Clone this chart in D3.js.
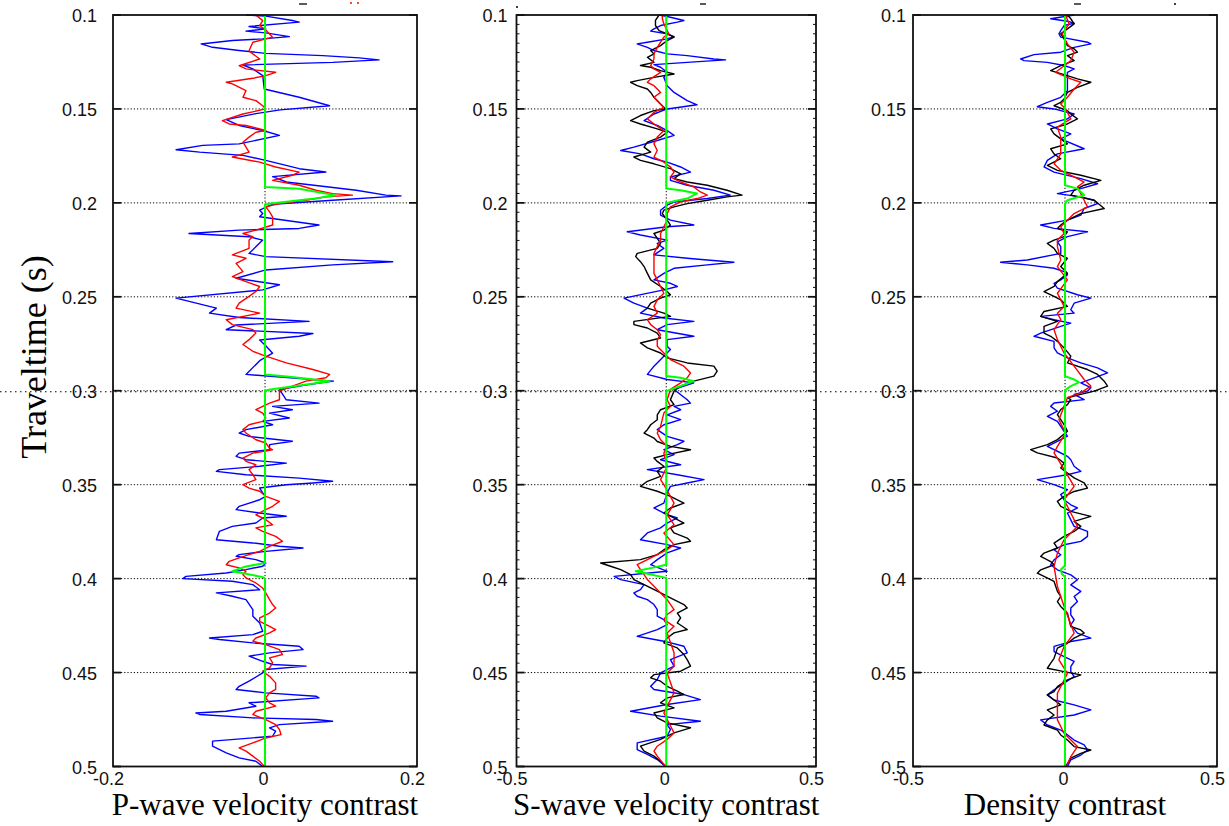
<!DOCTYPE html>
<html>
<head>
<meta charset="utf-8">
<script src="https://cdn.jsdelivr.net/npm/d3@7"></script>
<style>
  body { margin: 0; background: #fff; }
  svg { display: block; }
</style>
</head>
<body>
<svg id="chart" width="1229" height="826"></svg>
<script>
// traveltime ticks (s) and contrast ticks
const yTicks = [0.1, 0.15, 0.2, 0.25, 0.3, 0.35, 0.4, 0.45, 0.5];
const pTicks = [-0.2, 0, 0.2];
const sTicks = [-0.5, 0, 0.5];
const dTicks = [-0.5, 0, 0.5];

// traces: [time in ms, contrast]
const pBlue = [[100,-0.025],[100.6,0.001],[102.9,0.036],[103.8,0.045],[106.1,-0.021],[107.4,0.001],[108.6,-0.025],[109.5,0.001],[111.5,0.032],[112.7,-0.003],[113.6,-0.043],[115.4,-0.084],[117.2,-0.069],[118.9,-0.034],[120.4,0.001],[121.6,0.076],[122.8,0.124],[123.9,0.15],[125.2,0.089],[126.6,-0.029],[128.7,-0.016],[132.3,-0.003],[139.4,-0.001],[143.8,0.045],[148.3,0.085],[150.5,0.02],[152.5,-0.012],[155.7,-0.051],[158.8,-0.034],[161.5,-0.003],[164.1,0.019],[168.6,-0.034],[169.4,-0.082],[171.7,-0.117],[173,-0.086],[174.7,-0.029],[177.4,0.001],[181.8,0.045],[183.6,0.08],[186,0.01],[188.9,0.028],[193.3,0.12],[195.9,0.159],[196.3,0.179],[198.6,0.089],[200.7,0.01],[203.9,-0.007],[205.7,-0.003],[207.4,-0.007],[211.8,0.071],[213.6,0.045],[214.5,-0.034],[216.3,-0.1],[218,-0.021],[219.8,-0.003],[226.9,-0.021],[228.6,0.001],[231.3,0.168],[233,0.089],[235.7,0.001],[240.1,-0.038],[243.6,0.019],[246.3,-0.003],[250.7,-0.117],[256,-0.064],[258.7,-0.073],[261,-0.034],[263.1,0.058],[265,-0.038],[267.5,-0.051],[269.5,0.063],[271,0.045],[273,-0.007],[276,0.001],[280,0.01],[284,-0.007],[291.3,-0.025],[294.9,0.09],[297,0.053],[299.3,0.019],[304.8,0.028],[306.6,0.071],[308.3,0.01],[310.1,0.036],[311.9,0.006],[314.5,0.032],[316.3,-0.003],[318.1,0.01],[320.7,-0.025],[322.5,-0.034],[324.3,-0.021],[326.9,0.036],[328.7,0.006],[331.4,0.006],[333.2,-0.034],[334.9,-0.038],[336.7,-0.025],[338.5,0.028],[340.2,-0.007],[342,-0.06],[342.9,-0.064],[344.7,-0.025],[346.5,0.045],[348.2,0.089],[349.1,0.063],[350,0.028],[351.8,-0.007],[354.4,-0.003],[356.2,0.001],[358,-0.007],[361.5,-0.034],[363.3,-0.038],[365.1,-0.007],[366.8,0.028],[367.7,-0.003],[370.4,-0.012],[372.2,-0.043],[374.8,-0.06],[379.3,-0.064],[381,-0.016],[382.8,0.019],[383.7,0.05],[385.5,0.001],[387.2,-0.034],[388.1,-0.038],[389.9,-0.012],[391.7,0.001],[393.4,-0.003],[395.2,-0.025],[397,-0.051],[398.8,-0.104],[400,-0.108],[401.4,-0.043],[403.2,-0.016],[405.9,-0.007],[407.6,-0.064],[409.4,-0.043],[411.2,-0.025],[416.5,-0.016],[420,-0.016],[423.6,-0.007],[428,-0.003],[429.8,-0.016],[431.6,-0.073],[432.4,-0.06],[434.2,-0.016],[436,0.045],[437.8,0.05],[439.5,0.006],[441.3,-0.021],[444,-0.003],[445.7,0.01],[446.6,0.054],[448.4,0.001],[450.2,-0.003],[454.6,-0.021],[457.3,-0.034],[459,-0.038],[460.8,0.001],[462.6,0.067],[463.5,0.071],[466.1,-0.021],[467.9,-0.012],[470.6,-0.051],[471.5,-0.091],[472.3,-0.086],[474.1,-0.016],[475,0.067],[475.9,0.089],[477.7,0.019],[479.4,0.006],[481.2,0.014],[483.9,0.01],[486.5,-0.069],[489.2,-0.069],[492.7,-0.051],[495.4,-0.034],[497.2,-0.012],[500,-0.003]];
const pRed = [[100,-0.012],[103,-0.003],[105.6,-0.007],[108,0.001],[111.8,0.01],[114.5,-0.016],[119,-0.021],[120.7,-0.016],[123.4,-0.007],[127,-0.034],[128.7,-0.025],[130.5,0.014],[132.3,0.001],[133.7,-0.016],[135.8,-0.051],[136.7,-0.043],[140.3,-0.025],[143.8,-0.029],[145.6,-0.012],[148.3,-0.003],[150,0.001],[152.7,-0.029],[156.2,-0.056],[158,-0.047],[158.8,-0.025],[161.5,0.001],[162.4,-0.012],[165,-0.021],[167.7,-0.029],[170.3,-0.025],[173,-0.021],[175.6,-0.043],[178.3,-0.007],[180.9,0.014],[183.6,0.045],[185.3,0.036],[188,0.01],[190.6,0.045],[193.3,0.067],[195.1,0.089],[195.9,0.115],[196.8,0.08],[198.6,0.054],[200.4,0.019],[202.1,0.001],[204.8,0.006],[207.4,0.01],[211.8,0.01],[214.5,-0.012],[216.3,-0.029],[218,-0.016],[219.8,-0.021],[224.2,-0.021],[227.7,-0.043],[229.5,-0.025],[232.2,-0.038],[236.6,-0.029],[239.2,-0.043],[241.9,-0.025],[244.5,-0.007],[247.2,-0.012],[249.8,-0.021],[253.4,-0.034],[256,-0.038],[258.7,-0.007],[262.2,-0.051],[264.8,-0.043],[267.5,-0.016],[269.3,-0.012],[272.8,-0.021],[275.4,-0.029],[279,-0.016],[281.6,0.001],[285.2,0.028],[288.7,0.063],[291.3,0.085],[293.1,0.08],[294.9,0.054],[297.5,0.036],[300.2,0.019],[304.8,0.019],[306.6,0.006],[308.3,-0.003],[310.1,-0.012],[311.9,-0.003],[314.5,0.001],[316.3,-0.003],[318.1,-0.021],[320.7,-0.029],[322.5,-0.025],[326.1,-0.012],[327.8,0.001],[330.5,0.006],[331.4,0.01],[333.2,-0.016],[335.8,-0.029],[337.6,-0.025],[339.4,-0.012],[342,-0.021],[344.7,-0.016],[347.3,-0.012],[350,-0.029],[351.8,-0.021],[353.5,-0.007],[356.2,0.001],[358.9,0.019],[361.5,0.01],[363.3,0.001],[366,-0.012],[368.6,0.001],[371.3,0.01],[373,-0.012],[374.8,-0.003],[377.5,0.014],[380.1,0.023],[382.8,0.006],[385.5,-0.007],[387.2,-0.021],[389,-0.034],[390.8,-0.047],[392.6,-0.051],[394.3,-0.034],[396.1,-0.025],[397.9,-0.029],[399.6,-0.025],[402.3,-0.012],[405,-0.003],[407.6,0.001],[411.2,0.006],[413.8,0.01],[415.6,0.014],[418.3,0.006],[420.9,-0.007],[422.7,-0.007],[425.4,0.006],[427.1,0.014],[428.9,0.006],[431.6,-0.012],[433.3,-0.016],[435.1,0.001],[437.8,0.019],[440.4,0.023],[442.2,0.006],[444.9,0.01],[447.5,0.006],[449.3,-0.003],[452,0.006],[455.5,0.014],[459,0.014],[460.8,0.006],[463.5,0.001],[466.1,0.006],[467.9,0.014],[470.6,-0.012],[472.3,-0.016],[475,0.001],[477.7,0.014],[480.3,0.019],[483,0.021],[484.8,0.001],[487.4,-0.016],[490.1,-0.034],[491.8,-0.025],[494.5,-0.016],[497.2,-0.007],[500,-0.001]];
const pGreen = [[100,0],[191.5,0],[192.5,0.045],[196,0.093],[198,0.06],[200.5,0.005],[201,0],[291.3,0],[292.5,0.032],[294.9,0.085],[297.2,0.045],[299.5,0.005],[300,0],[391.7,0],[393.5,-0.025],[396.1,-0.043],[397.4,-0.025],[399.2,-0.003],[400,0],[500,0]];

const sBlue = [[100,-0.024],[100.8,0.003],[102.9,0.059],[103.8,0.037],[105.6,-0.019],[107.4,-0.041],[108.6,-0.052],[110,0.003],[111.5,0.026],[112.7,0.003],[114.5,-0.063],[115.4,-0.097],[117.2,-0.063],[118.9,-0.041],[120.7,0.003],[121.6,0.07],[123.4,0.159],[123.9,0.198],[125.2,0.07],[126.4,-0.041],[127.8,-0.019],[130.5,0.003],[133.2,-0.008],[137.6,0.003],[141.2,0.026],[145.6,0.07],[147.8,0.103],[150,0.003],[152.7,-0.041],[156.2,-0.074],[158.8,-0.03],[161.5,0.003],[164.1,0.026],[166.8,-0.03],[170.3,-0.108],[172.1,-0.152],[173.9,-0.086],[176.5,-0.041],[178.3,0.003],[180.9,0.048],[183.6,0.081],[186.2,0.014],[188,0.014],[190.6,0.07],[193.3,0.159],[195.9,0.214],[197.7,0.137],[199.5,0.026],[201.2,0.003],[203.9,-0.019],[206.5,-0.019],[209.2,0.014],[211.8,0.092],[212.7,0.003],[215.4,-0.13],[217.1,-0.086],[219.8,0.003],[221.6,-0.03],[224.2,-0.008],[227.7,-0.041],[229.5,0.07],[230.4,0.137],[231.6,0.226],[233,0.137],[234.8,0.026],[237.5,-0.008],[241,-0.041],[242.8,0.014],[244.5,0.037],[246.3,-0.008],[250.7,-0.141],[253.4,-0.108],[256,-0.063],[258.7,-0.086],[261.3,-0.008],[263.1,0.092],[264.8,0.003],[267.5,-0.03],[271,0.092],[272.8,0.003],[276.3,0.003],[278.1,0.014],[281.6,-0.008],[286.9,-0.041],[291.3,-0.063],[294,0.003],[295.8,0.092],[299.3,0.026],[304.8,0.07],[306.6,0.081],[308.3,0.026],[310.1,0.048],[312.8,0.003],[315.4,0.048],[318.1,-0.008],[320.7,-0.03],[324.3,0.003],[326.9,0.059],[328.7,0.037],[331.4,-0.008],[334,0.026],[336.7,-0.019],[339.4,0.048],[342,-0.063],[344.7,0.037],[347.3,0.126],[349.1,0.07],[350.9,0.014],[354.4,0.003],[359.8,-0.008],[362.4,-0.041],[364.2,-0.019],[366,0.003],[367.7,0.037],[370.4,0.003],[373,-0.019],[375.7,-0.063],[379.3,-0.086],[381.9,0.003],[383.7,0.048],[386.3,0.003],[389.9,-0.03],[392.6,-0.052],[396.1,0.003],[398.8,-0.174],[400.5,-0.152],[403.2,-0.074],[405.9,-0.086],[407.6,-0.108],[409.4,-0.097],[411.2,-0.063],[413.8,-0.041],[416.5,-0.03],[420,-0.03],[421.8,-0.008],[424.5,0.003],[427.1,-0.03],[430.7,-0.097],[433.3,-0.008],[436,0.059],[439.5,0.07],[443.1,0.014],[446.6,0.026],[450.2,-0.019],[453.7,-0.03],[457.3,-0.052],[459,-0.041],[461.7,0.059],[464.4,0.114],[467,0.003],[470.6,-0.119],[473.2,-0.019],[475.9,0.114],[477.7,0.003],[480.3,0.014],[483.9,0.003],[487.4,-0.097],[491,-0.097],[493.6,-0.063],[496.3,-0.03],[500,-0.002]];
const sRed = [[100,-0.013],[102,-0.013],[104.7,-0.008],[108.3,0.003],[110,0.009],[111.8,-0.008],[114.5,-0.019],[117.2,-0.03],[120.7,-0.041],[123.4,-0.041],[126.9,-0.052],[128.7,-0.041],[130.5,-0.019],[134,-0.052],[135.8,-0.063],[137.6,-0.041],[139.4,-0.03],[141.2,-0.019],[143.8,-0.041],[145.6,-0.03],[149.2,-0.008],[151.8,-0.041],[155.3,-0.063],[158,-0.041],[161.5,-0.008],[165,-0.03],[168.6,-0.041],[172.1,-0.03],[175.6,-0.041],[178.3,-0.008],[180.9,0.014],[183.6,0.026],[186.2,0.014],[188.9,0.048],[191.5,0.092],[194.2,0.114],[195.9,0.137],[197.7,0.103],[199.5,0.048],[202.1,0.014],[205.7,0.003],[209.2,0.003],[212.7,-0.008],[216.3,-0.019],[219.8,-0.019],[223.3,-0.03],[226.9,-0.041],[233.9,-0.041],[237.5,-0.041],[241,-0.03],[244.5,-0.019],[248.1,-0.008],[251.6,-0.03],[255.1,-0.041],[258.7,-0.03],[262.2,-0.063],[264.8,-0.052],[267.5,-0.03],[270.1,-0.019],[272.8,-0.03],[276.3,-0.03],[279.9,-0.008],[283.4,0.014],[286.9,0.059],[290.5,0.081],[293.1,0.07],[295.8,0.048],[299.3,0.014],[304.8,0.003],[308.3,0.014],[311.9,-0.008],[319,-0.019],[322.5,-0.03],[326.1,-0.019],[329.6,0.003],[333.2,-0.008],[340.2,0.003],[343.8,-0.008],[347.3,-0.019],[350,-0.008],[356.2,0.014],[359.8,0.026],[363.3,0.014],[366,0.003],[371.3,0.026],[375.7,-0.008],[381.9,0.026],[384.6,0.003],[387.2,-0.03],[389.9,-0.063],[392.6,-0.097],[395.2,-0.086],[397.9,-0.074],[400.5,-0.063],[404.1,-0.041],[407.6,-0.019],[411.2,0.003],[416.5,0.026],[419.1,0.003],[421.8,-0.008],[425.4,0.026],[428.9,0.003],[439.5,0.026],[446.6,0.026],[450.2,0.003],[460.8,0.026],[467.9,0.003],[471.5,-0.008],[482.1,0.026],[485.6,0.003],[489.2,-0.03],[491.8,-0.041],[494.5,-0.03],[500,-0.002]];
const sBlack = [[100,-0.024],[102.9,-0.036],[105.6,-0.036],[108.3,-0.024],[110,0.003],[111.8,0.026],[113.6,0.003],[116.3,-0.019],[118.9,-0.052],[120.7,-0.041],[122.5,-0.063],[125.2,-0.041],[126.9,-0.086],[127.8,-0.052],[129.6,-0.019],[131.4,0.026],[133.2,-0.041],[134.9,-0.097],[135.8,-0.119],[137.6,-0.097],[139.4,-0.063],[141.2,-0.052],[143.8,-0.041],[147.4,-0.019],[150,-0.002],[150.9,-0.041],[153.5,-0.086],[156.2,-0.119],[158,-0.086],[160.6,-0.03],[162.4,0.003],[165,-0.019],[167.7,-0.063],[170.3,-0.074],[173,-0.052],[175.6,-0.108],[177.4,-0.086],[179.2,-0.041],[181.8,0.014],[184.5,0.048],[187.1,0.026],[188.9,0.07],[190.6,0.137],[193.3,0.203],[195.9,0.253],[196.8,0.203],[198.6,0.137],[200.4,0.07],[202.1,0.026],[203.9,-0.008],[205.7,-0.013],[209.2,0.003],[211.8,0.014],[214.5,-0.008],[216.3,-0.041],[218.9,-0.03],[221.6,-0.019],[224.2,-0.03],[226.9,-0.097],[228.6,-0.102],[231.3,-0.086],[233.9,-0.074],[237.5,-0.063],[241,-0.052],[244.5,-0.019],[247.2,0.003],[248.9,0.014],[250.7,-0.019],[253.4,-0.052],[256,-0.063],[258.7,-0.008],[260.4,0.014],[263.1,-0.108],[264.8,-0.108],[266.6,-0.063],[269.3,-0.03],[271.9,-0.019],[274.6,-0.086],[277.2,-0.063],[279.9,-0.019],[282.5,0.003],[285.2,0.07],[286.9,0.159],[289.6,0.17],[292.2,0.159],[294.9,0.092],[297.5,0.048],[300.2,0.026],[304.8,0.014],[307.4,0.026],[310.1,-0.019],[312.8,-0.03],[315.4,-0.03],[318.1,-0.052],[320.7,-0.063],[322.5,-0.074],[325.2,-0.041],[327,-0.03],[329.6,0.014],[331.4,0.081],[334,0.003],[335.8,-0.041],[337.6,-0.03],[340.2,-0.008],[342.9,-0.03],[345.6,-0.019],[348.2,-0.063],[350.9,-0.086],[353.5,-0.03],[356.2,0.014],[359.8,0.059],[362.4,0.014],[365.1,-0.008],[367.7,0.026],[370.4,0.059],[373,0.014],[375.7,0.026],[378.4,0.07],[380.1,0.081],[381.9,0.026],[384.6,-0.008],[387.2,-0.03],[389.9,-0.086],[391.7,-0.219],[393.4,-0.186],[395.2,-0.152],[397.9,-0.119],[400.5,-0.108],[403.2,-0.074],[406.7,-0.03],[410.3,0.014],[413.8,0.059],[415.6,0.07],[418.3,0.037],[420.9,0.048],[423.6,0.037],[427.1,0.07],[428.9,0.026],[431.6,0.003],[434.2,-0.008],[436.9,0.037],[440.4,0.059],[443.1,0.07],[446.6,0.081],[449.3,0.048],[451.1,-0.041],[452.8,-0.052],[454.6,-0.019],[457.3,0.003],[459.9,0.037],[461.7,0.059],[463.5,0.003],[466.1,-0.019],[468.8,0.026],[471.5,-0.041],[474.1,-0.03],[476.8,0.003],[479.4,0.081],[482.1,0.026],[485.6,-0.019],[489.2,-0.086],[491.8,-0.074],[494.5,-0.041],[497.2,-0.019],[500,-0.002]];
const sGreen = [[100,0],[192.4,0],[193.3,0.048],[195,0.103],[197.7,0.07],[199.5,0.014],[200.4,0],[292.2,0],[293.1,0.048],[294.9,0.092],[297.5,0.048],[300.2,0],[392.6,0],[394,-0.04],[396.1,-0.102],[397.4,-0.063],[399.6,0],[500,0]];

const dBlue = [[100,0.03],[102,-0.047],[103.3,0.008],[104.4,0.03],[105.6,-0.003],[108.3,-0.014],[110,-0.02],[111.8,-0.014],[114.5,0.074],[115.4,0.085],[117.2,0.03],[119.8,-0.014],[121.1,-0.102],[123.4,-0.146],[124.3,-0.135],[125.2,-0.058],[126.9,-0.003],[128.7,0.03],[130.5,0.008],[134.9,0.008],[140.3,0.008],[143.8,-0.014],[146.5,-0.058],[148.8,-0.091],[150,-0.036],[152.7,0.03],[155.3,0.008],[158,-0.058],[160.6,-0.025],[163.3,0.019],[165.9,-0.014],[171.2,0.063],[173.9,-0.025],[177.4,-0.058],[180.9,-0.069],[183.6,-0.036],[187.1,0.052],[189.8,0.107],[192.4,0.052],[195.1,-0.025],[196.8,0.052],[198.6,0.096],[200.4,0.107],[203,0.063],[206.5,0.052],[209.2,0.008],[211.8,-0.08],[213.6,-0.036],[215.4,0.074],[218,0.008],[220.7,-0.025],[223.3,-0.014],[226.9,-0.014],[230.4,-0.124],[231.6,-0.212],[233,-0.124],[234.8,-0.036],[236.6,-0.003],[238.3,0.008],[241,-0.014],[242.8,-0.036],[245.4,-0.025],[248.9,0.041],[250.7,0.085],[253.4,0.03],[256.9,0.019],[258.7,0.03],[260.4,-0.08],[262.2,-0.036],[264,0.019],[265.7,-0.014],[269.3,-0.08],[271,-0.102],[273.7,-0.036],[277.2,-0.036],[279.9,-0.025],[282.5,0.008],[285.2,0.052],[287.8,0.107],[290.5,0.14],[293.1,0.096],[295.8,0.052],[298.4,0.085],[300.2,0.074],[301.9,0.03],[304.7,0.063],[306.5,-0.036],[308.3,-0.047],[310.9,-0.025],[313.6,-0.058],[316.3,-0.025],[318.9,-0.014],[321.6,-0.003],[324.2,0.008],[326.9,-0.025],[329.6,-0.058],[332.2,-0.025],[334.9,0.008],[336.7,0.019],[340.2,0.03],[342.9,0.052],[344.7,0.008],[347.3,-0.091],[350,-0.036],[352.7,0.008],[355.3,-0.014],[358,-0.003],[360.7,0.019],[362.4,0.041],[365.1,0.008],[368.7,0.019],[372.2,0.03],[374.9,0.074],[377.5,0.074],[380.2,0.052],[382,-0.003],[384.6,-0.036],[387.3,-0.014],[390,-0.036],[392.6,-0.047],[395.3,-0.025],[398,0.019],[400.6,0.041],[403.3,0.019],[406.8,0.052],[409.5,0.03],[412.2,0.041],[415.7,0.019],[419.3,0.019],[421.9,0.03],[424.6,0.019],[429,0.041],[431.7,0.085],[433.5,0.019],[436.1,-0.036],[438.8,-0.036],[441.5,-0.003],[444.1,0.03],[446.8,0.019],[449.5,0.019],[452.1,0.03],[455.7,-0.003],[459.2,-0.036],[461.9,-0.058],[464.6,-0.036],[467.2,0.03],[469.9,0.085],[472.6,0.03],[475.2,-0.08],[477.9,-0.058],[480.6,-0.014],[483.2,0.008],[485.9,0.03],[488.5,0.063],[491.2,0.074],[493.9,0.052],[496.5,0.019],[500,0.008]];
const dRed = [[100,0.002],[104.7,0.013],[110,-0.009],[115.4,0.008],[119.8,0.03],[124.3,0.019],[127.8,-0.009],[130.5,-0.031],[134,0.019],[135.8,0.052],[139.4,0.03],[143.8,0.008],[147.4,-0.014],[150,0.002],[155.3,0.019],[159.7,-0.025],[165,-0.014],[173.9,-0.014],[179.2,-0.036],[182.7,-0.014],[186.2,0.03],[188.9,0.063],[191.5,0.041],[195.1,0.052],[198.6,0.063],[202.1,0.074],[205.7,0.03],[209.2,0.008],[212.7,-0.014],[216.3,-0.003],[219.8,-0.025],[223.3,-0.025],[230.4,-0.014],[233.9,-0.025],[241,0.008],[248.1,-0.025],[255.1,-0.003],[258.7,-0.025],[262.2,-0.014],[267.5,-0.036],[272.8,-0.025],[279.9,-0.003],[286.9,0.03],[294,0.063],[297.5,0.085],[301.1,0.052],[303.7,0.008],[308.3,-0.003],[315.4,-0.02],[322.5,0.002],[329.6,-0.025],[333.1,-0.036],[340.2,-0.009],[350.9,0.03],[358,-0.003],[365.1,0.019],[372.2,0.041],[379.3,-0.003],[386.4,-0.025],[393.5,-0.036],[404.2,-0.025],[414.8,-0.003],[429,0.03],[436.1,-0.003],[443.2,-0.02],[450.4,0.008],[461,-0.025],[475.2,-0.025],[482.3,-0.003],[489.4,0.041],[494.7,0.019],[500,0.005]];
const dBlack = [[100,0.008],[102,0.019],[104.7,0.03],[107.4,0.008],[110,-0.014],[112.7,-0.003],[116.3,0.008],[118,0.03],[119.8,0.041],[121.6,0.008],[124.3,0.03],[126.9,-0.014],[129.6,-0.047],[131.7,-0.003],[134,0.041],[135.8,0.085],[138.5,0.041],[141.2,0.008],[144.7,-0.003],[146.5,-0.014],[148.3,-0.036],[150.9,0.008],[152.7,0.019],[155.3,0.041],[158,0.008],[160.6,-0.047],[163.3,-0.036],[165.9,-0.014],[168.6,0.008],[171.2,-0.047],[173.9,-0.036],[176.5,-0.014],[180,-0.058],[182.7,-0.025],[185.3,0.052],[188,0.118],[190.6,0.063],[193.3,0.03],[195.9,0.019],[198.6,0.096],[203,0.129],[205.7,0.052],[209.2,0.008],[211.8,-0.014],[213.6,-0.025],[215.4,0.008],[218,-0.003],[219.8,-0.036],[221.6,-0.058],[224.2,-0.036],[226.9,-0.025],[229.5,0.008],[233.9,-0.014],[237.5,0.008],[241.9,-0.025],[244.5,-0.036],[247.2,-0.069],[249.8,-0.036],[251.6,-0.014],[255.1,0.008],[257.8,-0.069],[260.4,-0.08],[263.1,-0.025],[265.7,-0.069],[269.3,-0.069],[271,-0.047],[273.7,-0.025],[277.2,-0.003],[281.6,0.019],[285.2,0.008],[288.7,0.074],[291.3,0.107],[294.9,0.129],[297.5,0.14],[300.2,0.096],[301.9,0.052],[303.7,0.008],[304.7,0.019],[307.4,0.008],[310,-0.014],[312.7,-0.025],[315.4,-0.014],[318,-0.003],[321.6,0.008],[326,-0.025],[328.7,-0.058],[331.3,-0.113],[333.1,-0.091],[335.8,-0.025],[338.5,-0.003],[341.1,-0.014],[343.8,0.008],[346.4,0.03],[349.1,0.063],[351.8,0.074],[353.6,0.03],[356.2,-0.003],[358.9,-0.025],[361.5,-0.014],[364.2,0.019],[366.9,0.085],[369.5,0.03],[372.2,0.052],[374.9,0.03],[377.5,-0.003],[381.1,-0.036],[383.7,-0.025],[386.4,-0.069],[388.2,-0.08],[390.9,-0.047],[392.6,-0.036],[395.3,-0.08],[397.1,-0.091],[398.8,-0.069],[401.5,-0.036],[406.8,-0.025],[409.5,-0.014],[412.2,-0.025],[414.8,-0.014],[418.4,0.008],[425.5,0.019],[427.3,0.052],[429,0.063],[431.7,0.03],[434.4,0.008],[437,-0.025],[442.4,-0.036],[445,-0.047],[447.7,-0.058],[449.5,-0.003],[451.2,0.052],[453.9,0.008],[457.5,-0.025],[460.1,-0.036],[461.9,-0.058],[464.6,-0.036],[467.2,-0.014],[469.9,-0.058],[472.6,-0.036],[475.2,-0.058],[477.9,-0.069],[480.6,-0.025],[483.2,-0.014],[485.9,0.008],[489.4,0.03],[491.2,0.085],[493,0.052],[495.6,0.019],[500,0.002]];
const dGreen = [[100,0],[190.6,0],[192.4,0.041],[195.9,0.063],[198.6,0.008],[200.4,0],[292.2,0],[294,0.03],[295.5,0.046],[297.5,0.019],[299.8,0],[393,0],[395.3,-0.014],[397.5,-0.01],[399,0],[500,0]];

const titles = ["P-wave velocity contrast", "S-wave velocity contrast", "Density contrast"];

const W = 1229, H = 826;
const svg = d3.select("#chart");
const y = d3.scaleLinear().domain([0.1, 0.5]).range([15, 766.5]);

const panels = [
  { x0: 113, x1: 417, dom: [-0.2, 0.2], ticks: pTicks, lab: 16, minor: false,
    traces: [[pBlue, "#0000ff"], [pRed, "#ff0000"], [pGreen, "#00ff00"]] },
  { x0: 516.5, x1: 816, dom: [-0.5, 0.5], ticks: sTicks, lab: 9, minor: true,
    traces: [[sBlue, "#0000ff"], [sBlack, "#000000"], [sRed, "#ff0000"], [sGreen, "#00ff00"]] },
  { x0: 913, x1: 1217, dom: [-0.5, 0.5], ticks: dTicks, lab: 7, minor: false,
    traces: [[dBlue, "#0000ff"], [dBlack, "#000000"], [dRed, "#ff0000"], [dGreen, "#00ff00"]] }
];

const gridLayer = svg.append("g");
const labelLayer = svg.append("g");
const lineLayer = svg.append("g");
const traceLayer = svg.append("g");
const frameLayer = svg.append("g");

const dotted = "1.2,2";

panels.forEach((p, i) => {
  const x = d3.scaleLinear().domain(p.dom).range([p.x0, p.x1]);

  // dotted grid lines
  gridLayer.selectAll(null)
    .data(yTicks.slice(1, -1))
    .enter().append("line")
    .attr("x1", p.x0 + 8).attr("x2", p.x1 - 8)
    .attr("y1", d => y(d)).attr("y2", d => y(d))
    .attr("stroke", "#000").attr("stroke-width", 1)
    .attr("stroke-dasharray", dotted);
  gridLayer.append("line")
    .attr("x1", x(0)).attr("x2", x(0))
    .attr("y1", y(0.1)).attr("y2", y(0.5))
    .attr("stroke", "#000").attr("stroke-width", 1)
    .attr("stroke-dasharray", dotted);

  // y tick labels
  const ya = labelLayer.append("g")
    .attr("transform", `translate(${p.x0 - p.lab},1)`)
    .call(d3.axisLeft(y).tickValues(yTicks).tickSize(0).tickPadding(0).tickFormat(d => String(d)));
  ya.select(".domain").remove();
  ya.attr("font-family", "'Liberation Sans', Arial, sans-serif").attr("font-size", 18);
  ya.selectAll("text").attr("fill", "#111");

  // x tick labels
  const xa = labelLayer.append("g")
    .attr("transform", "translate(0,772.5)")
    .call(d3.axisBottom(x).tickValues(p.ticks).tickSize(0).tickPadding(0).tickFormat(d => String(d)));
  xa.select(".domain").remove();
  xa.attr("font-family", "'Liberation Sans', Arial, sans-serif").attr("font-size", 18);
  xa.selectAll("text").attr("fill", "#111").attr("dx", d => d === 0 ? -2 : -5);

  // axis title
  labelLayer.append("text")
    .attr("x", (p.x0 + p.x1) / 2).attr("y", 815)
    .attr("text-anchor", "middle")
    .attr("font-family", "'Liberation Serif', 'Times New Roman', serif")
    .attr("font-size", 31)
    .text(titles[i]);

  // traces
  const line = d3.line().x(d => x(d[1])).y(d => y(d[0] / 1000));
  p.traces.forEach(([data, color]) => {
    traceLayer.append("path")
      .datum(data)
      .attr("d", line)
      .attr("fill", "none")
      .attr("stroke", color)
      .attr("stroke-width", color === "#00ff00" ? 2 : 1.4)
      .attr("stroke-linejoin", "round");
  });

  // frame and edge ticks
  frameLayer.append("rect")
    .attr("x", p.x0).attr("y", y(0.1))
    .attr("width", p.x1 - p.x0).attr("height", y(0.5) - y(0.1))
    .attr("fill", "none").attr("stroke", "#111").attr("stroke-width", 1.8);
  yTicks.forEach(t => {
    [[p.x0, p.x0 + 8], [p.x1, p.x1 - 8]].forEach(([a, b]) => {
      frameLayer.append("line")
        .attr("x1", a).attr("x2", b).attr("y1", y(t)).attr("y2", y(t))
        .attr("stroke", "#111").attr("stroke-width", 1.8);
    });
  });
  if (p.minor) {
    d3.range(0.105, 0.5, 0.005).forEach(t => {
      [[p.x0, p.x0 + 3], [p.x1, p.x1 - 3]].forEach(([a, b]) => {
        frameLayer.append("line")
          .attr("x1", a).attr("x2", b).attr("y1", y(t)).attr("y2", y(t))
          .attr("stroke", "#111").attr("stroke-width", 1);
      });
    });
  }
});

// dotted line at 0.3 across the whole figure
lineLayer.append("line")
  .attr("x1", 0).attr("x2", W)
  .attr("y1", y(0.3) + 1).attr("y2", y(0.3) + 1)
  .attr("stroke", "#000").attr("stroke-width", 1.2)
  .attr("stroke-dasharray", "1.5,3.5");

// vertical axis title
labelLayer.append("text")
  .attr("transform", "translate(46,357) rotate(-90)")
  .attr("text-anchor", "middle")
  .attr("font-family", "'Liberation Serif', 'Times New Roman', serif")
  .attr("font-size", 36)
  .text("Traveltime (s)");

// clipped legend remnants at the top edge
const bits = [
  [299, 307, 4, "#000"], [350, 352, 3, "#ff0000"], [357, 359, 3, "#ff0000"],
  [700, 706, 4, "#000"], [516, 518, 7, "#000"],
  [1074, 1081, 4, "#000"], [1174, 1176, 4, "#000"]
];
bits.forEach(([a, b, yy, c]) => {
  frameLayer.append("line")
    .attr("x1", a).attr("x2", b).attr("y1", yy).attr("y2", yy)
    .attr("stroke", c).attr("stroke-width", 1.3);
});
</script>
</body>
</html>
